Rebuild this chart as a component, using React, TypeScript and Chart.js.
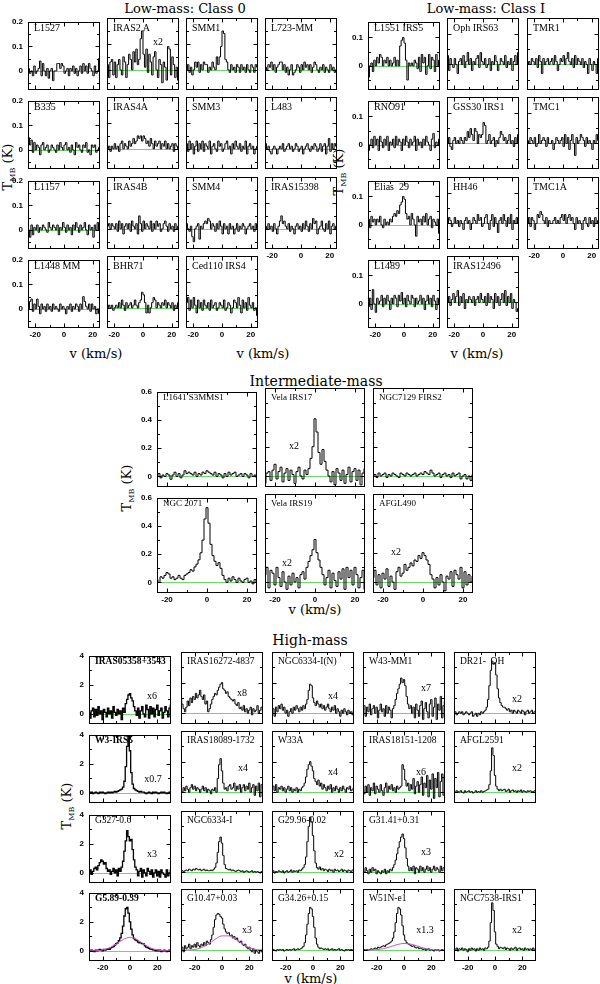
import React, { useEffect, useRef } from "react";
import { Chart, registerables } from "chart.js";
Chart.register(...registerables);

// ---------- channel grids (km/s) ----------
const VEL_LOW = [
  -24.5, -23.5, -22.5, -21.5, -20.5, -19.5, -18.5, -17.5, -16.5, -15.5,
  -14.5, -13.5, -12.5, -11.5, -10.5, -9.5, -8.5, -7.5, -6.5, -5.5,
  -4.5, -3.5, -2.5, -1.5, -0.5, 0.5, 1.5, 2.5, 3.5, 4.5,
  5.5, 6.5, 7.5, 8.5, 9.5, 10.5, 11.5, 12.5, 13.5, 14.5,
  15.5, 16.5, 17.5, 18.5, 19.5, 20.5, 21.5, 22.5, 23.5, 24.5,
];
const VEL_INT = [
  -25, -24, -23, -22, -21, -20, -19, -18, -17, -16,
  -15, -14, -13, -12, -11, -10, -9, -8, -7, -6,
  -5, -4, -3, -2, -1, 0, 1, 2, 3, 4,
  5, 6, 7, 8, 9, 10, 11, 12, 13, 14,
  15, 16, 17, 18, 19, 20, 21, 22, 23, 24,
  25,
];
const VEL_HIGH = [
  -30, -29, -28, -27, -26, -25, -24, -23, -22, -21,
  -20, -19, -18, -17, -16, -15, -14, -13, -12, -11,
  -10, -9, -8, -7, -6, -5, -4, -3, -2, -1,
  0, 1, 2, 3, 4, 5, 6, 7, 8, 9,
  10, 11, 12, 13, 14, 15, 16, 17, 18, 19,
  20, 21, 22, 23, 24, 25, 26, 27, 28, 29,
  30,
];
const VEL_FIT = [-30, -25, -20, -15, -10, -5, 0, 5, 10, 15, 20, 25, 30];

// ---------- Low-mass Class 0 (T_MB, K) ----------
const L1527 = [
  .01, -.01, .00, -.02, .02, -.01, .00, .01, .04, -.02,
  .03, .00, -.02, .01, -.03, .00, .01, -.04, .00, .00,
  .03, .03, .01, .03, .02, -.01, .00, .01, -.02, .01,
  .00, .02, -.01, .01, -.02, .00, .02, -.01, .03, .00,
  .02, -.01, .03, .01, .00, -.02, .02, -.01, .00, .05,
];
const IRAS2A = [
  .02, -.03, .03, .04, -.02, .03, -.03, .02, .04, .00,
  -.02, .05, .03, -.03, .02, .06, .04, .00, .07, .03,
  .08, .02, .04, .12, .15, .06, .01, .08, -.01, .06,
  .03, -.02, .05, .07, .00, -.03, .04, .02, -.05, .03,
  .01, -.04, .09, .08, -.02, .05, .02, -.03, .01, -.04,
];
const SMM1 = [
  .00, .02, -.01, .01, -.02, .00, .03, .01, .03, -.01,
  .02, .00, .03, .02, .02, -.01, .01, .00, .03, .01,
  .00, .05, .02, .05, .09, .15, .14, .04, .03, .00,
  -.01, .02, .00, .01, -.01, .02, .01, -.01, .02, .00,
  .01, -.01, .02, .00, -.01, .02, .01, -.01, .02, .01,
];
const L723 = [
  .01, .00, .02, .01, .03, .00, .02, -.01, .01, .02,
  .03, .03, .00, .02, -.01, .01, -.02, .00, .02, -.02,
  -.01, .00, .02, .01, -.01, .02, .00, .03, .01, .02,
  .00, .02, -.01, .01, .03, .02, .00, -.01, .01, .00,
  .02, -.01, .01, .00, -.01, .02, .00, .01, -.01, .00,
];
const B335 = [
  .05, .02, .04, -.01, .03, .00, .02, .01, -.02, .02,
  .03, .00, .01, .02, -.01, .00, .02, .01, .00, -.01,
  .02, .00, .03, .01, .00, .02, .03, .00, .01, -.01,
  .02, .00, -.02, .03, .01, .02, .00, -.01, .02, .01,
  .03, -.01, .00, -.02, .02, .01, .02, -.01, .00, .01,
];
const IRAS4A = [
  .00, .01, -.01, .01, .00, .02, .00, .01, -.01, .02,
  .03, .00, .02, .01, .00, .03, .01, .02, .04, .02,
  .03, .05, .04, .05, .03, .05, .04, .02, .03, .01,
  .04, .02, .00, .03, .01, .02, .03, .00, .02, .01,
  .03, .00, .02, .00, .01, .02, -.01, .02, .01, .00,
];
const SMM3 = [
  .02, -.01, .03, .00, .02, -.02, .01, .03, -.01, .02,
  .00, .03, -.01, .02, .01, .00, .03, -.02, .01, .02,
  .00, -.01, .03, .01, .02, -.01, .00, .02, .03, .00,
  .01, -.02, .02, .00, .03, .01, .00, .02, -.01, .01,
  .00, .03, -.02, .01, .02, .00, .01, -.02, .00, .01,
];
const L483 = [
  .02, .00, .01, -.01, -.02, .00, .01, .00, -.02, .00,
  .01, .00, .02, -.01, .00, .01, .02, .00, .01, -.01,
  .00, .02, .01, -.01, .00, .01, -.02, .00, .01, .02,
  .00, -.01, .01, .00, .02, .01, -.01, .00, .02, -.01,
  .01, .02, -.02, .01, .04, -.01, .02, .00, .02, .01,
];
const L1157 = [
  .00, -.03, .02, -.02, .01, .00, .02, -.01, .01, .00,
  .02, .01, .00, -.01, .03, .01, .00, .02, .01, .00,
  .02, -.02, .01, .00, .03, .01, -.01, .02, .00, .01,
  -.02, .02, .00, .03, .01, -.01, .02, .00, .01, .03,
  .00, -.02, .02, .00, .01, -.03, .02, .00, .03, .00,
];
const IRAS4B = [
  .01, .02, .00, .02, .01, .00, .02, -.01, .03, .00,
  .02, -.02, .01, .02, .00, .02, -.01, .03, .01, .00,
  .02, -.02, .05, .02, -.01, .03, .00, .02, .01, .00,
  .03, -.01, .02, .00, .03, .01, .02, -.01, .00, .02,
  .03, .01, -.01, .02, .00, .01, -.01, .02, .00, .01,
];
const SMM4 = [
  .02, .00, -.01, .01, -.03, -.05, .00, .01, .02, -.04,
  .01, .00, .02, .03, .02, .04, .03, .00, .02, .01,
  -.01, .02, .00, .03, .01, -.02, .02, .00, .01, -.02,
  .02, .00, .01, -.02, .00, .02, -.01, .01, .00, .02,
  .01, -.02, .00, .01, .02, .00, .01, -.01, .02, .00,
];
const IRAS15398 = [
  .01, .00, .02, .00, .01, -.01, .02, .00, -.02, .01,
  .03, .05, .02, .03, .01, .00, .02, -.01, .01, .00,
  -.02, .01, .02, .00, .01, -.01, .02, .00, .03, .01,
  -.01, .02, .00, .04, .02, .03, -.02, .00, .01, .03,
  .00, -.01, .02, .00, .03, -.02, .01, .02, .00, .01,
];
const L1448MM = [
  .00, .03, .04, -.01, .02, .00, .04, .01, -.02, .02,
  .00, .01, -.01, .02, .00, .01, -.01, .02, .00, .01,
  .00, -.01, .02, .00, .01, .00, -.02, .01, .00, .02,
  -.01, .01, .00, .02, .01, -.01, .02, .00, .05, .03,
  .01, .00, .02, -.01, .02, .00, .01, -.02, .00, -.02,
];
const BHR71 = [
  .00, .01, .00, .01, -.01, .00, .01, .00, .02, .00,
  .03, .01, -.01, .02, .00, .01, .02, .00, .01, .03,
  .01, .00, .02, .03, .06, .05, .02, -.02, .01, -.02,
  .00, .02, .04, .03, .00, .02, .01, .00, .02, .01,
  .03, .00, .02, .01, .00, .02, -.01, .01, .00, .02,
];
const CED110 = [
  .02, .04, -.01, .03, .00, .04, .01, -.02, .03, .00,
  .02, -.01, .03, .01, .00, .02, -.01, .03, .00, .01,
  .02, -.01, .00, .02, .01, .00, .03, -.01, .00, .02,
  .01, -.02, .00, .03, .02, .00, .04, .01, -.02, .03,
  .00, .02, -.01, .04, .01, .00, .02, -.01, .00, -.03,
];

// ---------- Low-mass Class I ----------
const L1551 = [
  -.04, .00, .01, -.02, .02, .00, .03, .01, .04, .03,
  .00, .02, .01, .03, .00, .02, .00, .01, .03, .00,
  .02, .00, .07, .09, .10, .08, .02, -.05, .01, .00,
  .01, .00, .02, .01, -.01, .03, -.02, .04, .01, .03,
  -.03, .00, .04, -.01, .03, .02, -.02, .04, .00, .02,
];
const OPH63 = [
  .03, -.02, .02, .00, -.01, .02, .00, -.03, .01, .02,
  .00, .03, -.01, .01, .04, .00, .02, -.02, .01, .00,
  .02, .03, -.01, .04, .01, .00, .02, -.01, .00, .02,
  -.02, .01, .00, .03, .01, -.02, .00, .02, .01, .00,
  .03, -.01, .01, .00, .02, -.02, .01, .03, .00, .04,
];
const TMR1 = [
  .00, .01, .00, .02, .01, .00, .02, -.01, .03, .01,
  -.03, .02, .00, .01, .02, .00, .01, .02, .00, .03,
  .01, -.02, .00, .02, .01, .03, .00, .02, .04, .01,
  .00, .02, -.01, .03, .00, .02, .01, .00, .02, -.01,
  .01, .00, -.03, .02, .00, -.02, .01, .00, -.03, .02,
];
const RNO91 = [
  -.02, .00, .02, -.01, .03, .00, .02, -.02, .03, .01,
  -.01, .02, .00, .03, -.02, .01, .00, .02, -.01, .03,
  .00, .02, .01, -.02, .02, .00, .03, .01, -.01, .02,
  .00, .01, .03, -.02, .02, .00, .01, -.01, .02, .00,
  .03, .01, .00, -.02, .02, .04, -.01, .01, .00, .02,
];
const GSS30 = [
  .00, .02, -.01, -.02, .01, .02, .00, .01, .00, .02,
  .01, .00, .02, .01, .04, .02, .05, .03, .01, .05,
  .04, .00, .03, .02, .03, .07, .06, .00, .01, .03,
  .00, .01, .02, -.01, .01, .00, .02, .04, .03, .01,
  .02, .00, .01, .03, .00, .01, -.01, .02, .00, .03,
];
const TMC1 = [
  .01, .00, .02, .01, .00, .02, -.01, .00, .03, .00,
  .01, .02, .01, -.01, .02, .00, .00, .01, -.02, .00,
  .02, .01, .00, .01, .02, -.01, .03, .00, .02, -.02,
  .01, .03, .00, -.04, .02, .00, .01, .03, .02, .01,
  -.01, .02, .00, .01, .00, -.02, .01, .00, .03, .01,
];
const ELIAS29 = [
  .02, -.01, .03, .01, .02, .00, .02, .01, .03, .00,
  -.01, .02, .00, .01, .00, .02, .01, .03, .04, .03,
  .05, .04, .07, .08, .10, .09, .04, .02, .03, .00,
  .04, .02, .00, -.04, .03, .01, .02, .00, .03, .01,
  .04, .00, .02, .03, -.01, .02, .01, .00, .02, -.03,
];
const HH46 = [
  .00, .02, .01, -.01, .00, .02, .00, .01, -.01, .01,
  .00, -.02, .01, .02, .00, .01, -.02, .00, .02, .01,
  .00, .03, .01, .02, -.01, .00, .02, .03, .00, -.02,
  .01, .03, -.01, .02, .00, -.03, .01, .02, .00, .03,
  .01, -.01, .02, .00, .03, -.02, .01, .00, .02, .00,
];
const TMC1A = [
  .00, .02, -.01, .02, .01, -.02, .00, .03, .02, .04,
  .03, .01, .00, .02, -.01, .01, .00, .00, .01, .02,
  .00, .01, .00, .02, .03, .01, .03, .00, .02, .03,
  .01, .02, .00, -.02, .02, .00, .01, .00, -.02, .01,
  .02, .00, -.01, .02, .00, .01, -.01, .02, .00, .01,
];
const L1489 = [
  -.01, .02, -.02, .05, .00, -.03, .02, .00, .01, .03,
  -.01, .02, .00, .03, .01, -.02, .02, .00, .03, .02,
  -.01, .03, .01, .04, .00, .02, -.01, .03, .01, .00,
  .03, .02, -.01, .02, .00, .01, .03, .00, .02, -.02,
  .01, .03, .00, .02, -.01, .03, .01, -.02, .02, .00,
];
const IRAS12496 = [
  .00, .02, -.01, .01, .03, .00, .02, .04, -.01, .02,
  .00, .03, -.02, .01, .00, .02, .01, .00, .02, -.01,
  .01, .02, .00, .03, .01, .00, .02, -.01, .03, .00,
  .02, .01, -.02, .03, .00, .02, -.01, .01, .03, .00,
  .04, -.01, .02, .00, .03, -.02, .01, .00, -.03, -.02,
];

// ---------- Intermediate-mass ----------
const L1641 = [
  .00, .02, -.01, .01, .00, .02, .01, -.02, .01, .03,
  .00, .02, -.01, .01, .04, .02, .03, .02, .01, .03,
  .00, .02, .01, .03, .02, .04, .03, .02, .01, .03,
  .00, .02, .01, -.01, .02, .00, .03, .01, .02, .03,
  .00, .01, .02, .00, .02, .01, -.01, .02, .00, .01,
  -.01,
];
const VELA17 = [
  -.05, .02, .03, -.03, .04, .08, -.02, .03, .06, -.04,
  .02, .05, -.03, .04, .01, -.05, .03, .06, .00, -.02,
  .04, .01, .05, .12, .20, .39, .30, .16, .08, .18,
  .10, .04, .00, -.04, .03, -.06, .05, .02, -.03, .04,
  -.05, .01, .06, -.04, .03, .05, -.03, .04, -.06, .02,
  .05,
];
const NGC7129 = [
  .00, .01, -.01, .02, .00, .01, .02, -.01, .01, .00,
  .02, .01, .00, -.01, .02, .01, .00, .02, .01, .00,
  .01, .02, .00, .01, .02, .01, .03, .02, .01, .04,
  .02, .00, .01, .02, -.01, .01, .02, .00, .01, -.01,
  .02, .00, .01, .02, -.02, .00, .01, -.02, .00, -.03,
  .01,
];
const NGC2071 = [
  .02, .00, .04, .03, .05, .07, .06, .03, .04, .02,
  .03, .05, .03, .02, .05, .06, .07, .09, .08, .11,
  .13, .16, .21, .30, .45, .53, .42, .27, .19, .15,
  .12, .14, .10, .05, .02, .00, .03, .01, .04, .02,
  .00, .03, .01, .00, .02, .03, .00, .01, -.01, .02,
  .00,
];
const VELA19 = [
  .05, .10, -.04, .08, .06, -.02, .10, .03, -.03, .07,
  .00, -.05, .04, -.02, .06, .00, .03, -.04, .05, .07,
  .02, .10, .14, .18, .22, .29, .20, .15, .10, .05,
  -.02, .03, .08, -.04, .06, .01, -.03, .07, .02, .09,
  -.05, .10, .03, .08, -.02, .10, .05, -.04, .03, .08,
  -.05,
];
const AFGL490 = [
  .03, .08, -.02, .05, -.04, .06, .02, .09, -.03, .04,
  .00, -.05, .07, .10, .04, .06, .12, .08, .10, .13,
  .11, .15, .14, .18, .16, .20, .18, .15, .12, .05,
  .02, -.04, .03, -.02, .05, .00, -.06, .04, .02, .07,
  -.03, .08, .05, .02, .10, -.04, .07, -.02, .05, .00,
  .04,
];

// ---------- High-mass (scaled as marked) ----------
const IRAS05358 = [
  0.1, -0.3, 0.2, 0.4, -0.2, 0.3, -0.1, 0.5, 0.0, 0.2,
  -0.4, 0.3, 0.1, -0.2, 0.4, 0.0, 0.2, -0.3, 0.5, 0.1,
  -0.1, 0.3, 0.0, 0.2, -0.4, 0.4, 0.1, 0.7, 1.0, 1.3,
  1.4, 1.1, 0.9, 0.5, 0.2, -0.1, 0.4, -0.3, 0.2, 0.5,
  0.0, -0.2, 0.6, 0.3, -0.3, 0.5, 0.0, 0.4, -0.2, 0.3,
  0.6, -0.1, 0.2, 0.4, -0.3, 0.1, 0.5, 0.2, -0.2, 0.4,
  0.6,
];
const IRAS16272 = [
  1.0, 0.6, 0.3, 0.1, 0.4, 0.8, 0.5, 1.0, 0.7, 1.1,
  0.9, 1.3, 1.0, 1.2, 1.5, 1.1, 0.9, 1.2, 0.6, 0.8,
  0.1, 0.3, 0.6, 0.9, 1.1, 1.3, 1.2, 1.5, 1.7, 1.9,
  2.0, 1.6, 1.5, 1.3, 1.4, 1.1, 1.0, 0.9, 0.8, 0.9,
  0.6, 0.5, 0.7, 0.3, 0.4, 0.2, 0.5, 0.1, 0.3, 0.0,
  0.2, 0.4, -0.1, 0.3, 0.1, 0.2, 0.5, 0.0, 0.2, 0.4,
  0.1,
];
const NGC6334IN = [
  0.0, 0.3, -0.2, 0.4, 0.1, 0.5, 0.3, 0.6, 0.2, 0.4,
  0.0, 0.2, -0.2, 0.1, 0.3, 0.0, 0.4, 0.2, 0.5, 0.3,
  0.1, 0.4, 0.2, 0.5, 0.3, 0.6, 0.9, 1.5, 1.9, 1.8,
  1.0, 0.7, 0.5, 0.8, 0.6, 0.4, 0.6, 0.3, 0.5, 0.2,
  0.4, 0.6, 0.3, 0.1, 0.4, 0.2, 0.5, 0.0, 0.3, 0.1,
  -0.2, 0.2, 0.0, 0.3, 0.1, -0.1, 0.2, 0.0, 0.1, -0.1,
  0.2,
];
const W43MM1 = [
  0.2, 0.5, -0.2, 0.4, 0.1, 0.6, -0.1, 0.3, 0.5, 0.0,
  0.4, -0.3, 0.2, 0.6, 0.1, 0.3, -0.2, 0.5, 0.0, 0.4,
  0.2, -0.3, 0.3, 0.5, 0.9, 1.3, 1.6, 1.9, 2.3, 2.0,
  2.2, 1.8, 1.1, 0.6, 0.3, 0.5, 0.0, 0.4, -0.3, 0.6,
  0.2, -0.2, 0.5, 0.8, -0.4, 0.3, 0.7, 0.1, -0.3, 0.6,
  0.9, -0.2, 0.4, 1.0, -0.4, 0.6, 0.2, 1.1, -0.3, 0.5,
  0.8,
];
const DR21OH = [
  0.0, 0.1, -0.1, 0.0, 0.1, 0.0, 0.1, -0.1, 0.0, 0.1,
  0.0, -0.1, 0.0, 0.1, -0.2, -0.1, 0.0, -0.2, 0.0, -0.1,
  0.1, 0.0, 0.1, 0.2, 0.4, 0.9, 1.8, 2.8, 3.4, 3.2,
  3.3, 2.5, 1.6, 1.0, 0.7, 0.5, 0.4, 0.4, 0.3, 0.2,
  0.3, 0.1, 0.2, 0.0, 0.2, 0.1, 0.0, 0.2, 0.1, 0.0,
  0.2, 0.1, -0.1, 0.1, 0.2, 0.0, 0.1, 0.2, 0.0, 0.1,
  0.2,
];
const W3IRS5 = [
  0.05, 0.0, 0.05, -0.05, 0.0, 0.05, 0.0, -0.05, 0.05, 0.0,
  0.05, 0.0, -0.05, 0.0, 0.05, 0.0, 0.05, 0.0, 0.05, 0.1,
  0.05, 0.1, 0.15, 0.2, 0.25, 0.4, 0.8, 1.8, 3.2, 3.9,
  2.9, 1.4, 0.6, 0.3, 0.2, 0.15, 0.1, 0.05, 0.1, 0.05,
  0.05, 0.0, -0.05, 0.0, 0.05, 0.0, -0.05, 0.05, 0.0, 0.05,
  0.0, -0.05, 0.0, 0.05, 0.0, 0.05, 0.0, -0.05, 0.0, 0.05,
  0.0,
];
const IRAS18089 = [
  0.2, 0.0, 0.3, 0.1, 0.4, 0.2, 0.0, 0.3, 0.5, 0.2,
  0.4, 0.1, 0.3, 0.2, 0.0, 0.2, 0.4, 0.1, 0.3, 0.0,
  0.2, 0.1, -0.1, 0.2, 0.1, 0.3, 0.0, 0.9, 1.8, 2.2,
  1.4, 0.6, 0.2, 0.3, 0.1, 0.4, 0.5, 0.2, 0.3, 0.6,
  0.1, 0.4, 0.2, 0.5, 0.0, 0.3, 0.5, 0.1, 0.4, 0.2,
  0.6, 0.0, 0.3, 0.5, -0.2, 0.4, 0.1, 0.6, -0.3, 0.5,
  0.2,
];
const W33A = [
  0.2, 0.4, 0.1, 0.5, 0.0, 0.3, 0.2, 0.4, 0.1, 0.3,
  0.0, 0.2, 0.4, 0.1, 0.3, 0.0, 0.2, 0.1, 0.3, 0.0,
  0.2, 0.1, 0.3, 0.4, 0.6, 1.0, 1.5, 1.8, 2.0, 1.7,
  1.4, 0.9, 0.7, 0.5, 0.8, 0.4, 0.6, 0.2, 0.5, 0.3,
  0.1, 0.4, 0.2, 0.5, 0.0, 0.3, 0.1, 0.4, 0.2, 0.0,
  0.3, 0.1, 0.4, 0.2, 0.0, 0.3, 0.2, 0.4, 0.1, 0.2,
  0.3,
];
const IRAS18151 = [
  0.2, -0.1, 0.4, 0.0, 0.5, -0.2, 0.3, 0.1, 0.6, -0.1,
  0.4, 0.2, 0.0, 0.5, 0.1, -0.2, 0.3, 0.6, 0.0, 0.4,
  0.2, 0.5, 0.1, 0.3, 0.0, 0.4, 0.2, 0.3, 0.4, 1.8,
  1.5, 0.8, 0.4, 0.6, 0.1, 0.5, 0.2, 0.9, -0.1, 0.4,
  0.7, 0.0, 0.5, 1.0, -0.2, 0.6, 0.3, 1.1, -0.3, 0.8,
  0.2, 1.2, -0.4, 0.9, 0.3, 1.3, -0.3, 0.7, 1.2, -0.2,
  1.0,
];
const AFGL2591 = [
  0.1, 0.0, 0.1, 0.05, 0.0, 0.1, 0.0, -0.05, 0.1, 0.0,
  0.05, 0.1, 0.0, 0.05, -0.05, 0.0, 0.1, 0.0, 0.05, 0.0,
  0.1, 0.0, 0.05, 0.1, 0.15, 0.2, 0.5, 1.4, 2.9, 2.4,
  1.1, 0.4, 0.2, 0.1, 0.2, 0.1, 0.15, 0.2, 0.05, 0.1,
  0.2, 0.0, 0.1, 0.15, 0.05, 0.1, 0.0, 0.1, 0.05, 0.15,
  0.0, 0.1, 0.05, 0.0, 0.1, 0.05, 0.1, 0.0, 0.05, 0.1,
  0.0,
];
const G327 = [
  0.0, 0.2, -0.1, 0.1, 0.3, 0.4, 0.2, 0.5, 0.7, 0.9,
  0.8, 0.6, 0.7, 0.3, 0.1, 0.2, -0.1, 0.1, 0.3, 0.0,
  0.2, -0.2, 0.3, 0.1, 0.4, 0.8, 1.5, 2.2, 2.9, 2.5,
  2.2, 2.3, 1.6, 0.9, 0.4, 0.2, -0.2, 0.1, 0.3, -0.3,
  0.2, 0.0, -0.2, 0.3, 0.1, -0.1, 0.2, -0.3, 0.0, 0.2,
  -0.2, 0.1, -0.3, 0.2, 0.0, -0.1, -0.3, 0.2, -0.2, 0.0,
  0.2,
];
const NGC6334I = [
  0.05, 0.1, 0.05, 0.1, 0.15, 0.1, 0.2, 0.15, 0.1, 0.2,
  0.15, 0.25, 0.2, 0.15, 0.2, 0.1, 0.15, 0.2, 0.1, 0.15,
  0.1, 0.1, 0.15, 0.1, 0.2, 0.3, 0.6, 1.3, 2.0, 2.3,
  1.9, 1.1, 0.5, 0.25, 0.2, 0.15, 0.2, 0.1, 0.15, 0.1,
  0.05, 0.1, 0.15, 0.1, 0.05, 0.1, 0.0, 0.05, 0.1, 0.05,
  0.0, 0.05, 0.1, 0.0, 0.05, 0.0, 0.05, 0.0, -0.05, 0.05,
  0.0,
];
const G2996 = [
  0.0, 0.1, -0.05, 0.05, 0.0, 0.1, 0.05, 0.0, 0.1, -0.05,
  0.05, 0.1, 0.0, 0.05, 0.15, 0.0, 0.1, 0.05, 0.1, 0.0,
  0.15, 0.1, 0.2, 0.3, 0.5, 1.0, 2.0, 3.0, 3.6, 3.3,
  2.4, 1.4, 0.6, 0.3, 0.2, 0.35, 0.15, 0.25, 0.1, 0.2,
  0.15, 0.05, 0.2, 0.1, 0.15, 0.0, 0.2, 0.1, 0.15, 0.05,
  0.1, 0.2, 0.05, 0.15, 0.1, 0.0, 0.15, 0.1, 0.05, 0.15,
  0.1,
];
const G3141 = [
  0.2, 0.0, 0.3, 0.1, -0.1, 0.2, 0.0, 0.3, 0.1, 0.2,
  -0.1, 0.1, 0.0, -0.1, 0.1, 0.0, 0.2, -0.1, 0.1, 0.0,
  0.2, 0.1, 0.3, 0.5, 0.8, 1.2, 1.6, 2.0, 2.3, 2.5,
  2.2, 1.6, 0.9, 0.4, 0.1, 0.3, 0.1, 0.4, -0.1, 0.3,
  0.2, 0.0, 0.4, 0.1, 0.3, 0.0, 0.2, 0.4, 0.1, 0.3,
  0.0, 0.2, 0.4, 0.1, 0.3, 0.2, 0.0, 0.4, 0.1, 0.3,
  0.2,
];
const G589 = [
  0.05, 0.0, 0.05, 0.0, -0.05, 0.05, 0.0, 0.05, 0.1, 0.05,
  0.0, 0.1, 0.05, 0.1, 0.15, 0.1, 0.2, 0.25, 0.3, 0.4,
  0.5, 0.55, 0.7, 0.9, 1.2, 1.7, 2.4, 2.9, 3.0, 2.6,
  2.0, 1.5, 1.1, 0.85, 0.75, 0.7, 0.6, 0.55, 0.55, 0.5,
  0.48, 0.35, 0.25, 0.22, 0.17, 0.12, 0.1, 0.06, 0.05, 0.0,
  0.05, 0.0, 0.05, -0.05, 0.0, 0.05, 0.0, -0.05, 0.0, 0.05,
  -0.05,
];
const G589_FIT = [0.0, 0.01, 0.06, 0.2, 0.47, 0.78, 0.93, 0.78, 0.47, 0.2, 0.06, 0.01, 0.0];
const G1047 = [
  0.0, 0.2, -0.1, 0.3, 0.1, 0.2, 0.4, 0.1, 0.3, 0.2,
  0.4, 0.2, 0.5, 0.3, 0.2, 0.4, 0.3, 0.5, 0.3, 0.6,
  0.5, 0.4, 0.7, 1.0, 1.5, 2.0, 2.3, 2.4, 2.35, 2.2,
  2.1, 1.7, 1.4, 1.2, 1.1, 1.15, 0.95, 1.0, 0.8, 0.9,
  0.7, 0.8, 0.6, 0.5, 0.6, 0.4, 0.3, 0.4, 0.2, 0.1,
  0.2, 0.0, -0.1, 0.1, -0.2, 0.0, -0.1, -0.2, 0.0, -0.1,
  0.1,
];
const G1047_FIT = [0.0, 0.01, 0.05, 0.17, 0.41, 0.72, 0.94, 0.94, 0.72, 0.41, 0.17, 0.05, 0.01];
const G3426 = [
  0.0, 0.05, 0.0, -0.05, 0.05, 0.0, 0.05, 0.0, 0.05, -0.05,
  0.0, 0.05, 0.0, 0.05, 0.0, 0.05, 0.1, 0.0, 0.05, 0.1,
  0.05, 0.1, 0.15, 0.25, 0.5, 1.0, 1.7, 2.4, 2.8, 2.7,
  2.2, 1.5, 0.8, 0.4, 0.2, 0.1, 0.15, 0.1, 0.05, 0.1,
  0.05, 0.1, 0.0, 0.05, 0.1, 0.0, 0.05, 0.0, 0.05, 0.1,
  0.0, 0.05, 0.0, -0.05, 0.05, 0.0, 0.05, 0.0, 0.05, 0.0,
  0.05,
];
const W51N = [
  0.0, 0.05, 0.0, 0.05, 0.0, 0.05, 0.1, 0.05, 0.1, 0.15,
  0.1, 0.2, 0.15, 0.2, 0.25, 0.3, 0.25, 0.35, 0.4, 0.45,
  0.5, 0.6, 0.8, 1.2, 1.8, 2.4, 2.8, 2.7, 2.3, 1.6,
  1.0, 0.65, 0.5, 0.42, 0.37, 0.3, 0.25, 0.3, 0.2, 0.15,
  0.2, 0.1, 0.15, 0.1, 0.05, 0.1, 0.0, 0.05, 0.1, 0.0,
  0.05, 0.0, -0.05, 0.05, 0.0, 0.05, -0.05, 0.0, 0.05, 0.0,
  -0.05,
];
const W51N_FIT = [0.0, 0.01, 0.04, 0.11, 0.23, 0.37, 0.45, 0.4, 0.27, 0.13, 0.05, 0.01, 0.0];
const NGC7538 = [
  0.1, 0.0, 0.15, -0.05, 0.1, 0.05, 0.15, 0.0, 0.1, 0.05,
  -0.1, 0.1, 0.0, 0.15, 0.05, 0.1, -0.05, 0.1, 0.0, 0.15,
  0.05, 0.1, 0.0, 0.15, 0.1, 0.2, 0.6, 1.8, 3.1, 2.6,
  1.2, 0.4, 0.25, 0.1, 0.2, 0.15, 0.1, 0.2, 0.05, 0.15,
  0.1, 0.0, 0.15, 0.05, 0.1, 0.2, 0.0, 0.1, 0.15, 0.05,
  0.1, 0.0, 0.15, 0.05, 0.1, 0.0, 0.1, 0.05, 0.15, 0.0,
  0.1,
];

// ---------- axis ticks ----------
const X_LABELS = [-20, 0, 20];
const X_MINOR = [-10, 10];

// ---------- layout / style ----------
const PL = 20, PR = 3, PT = 6, PB = 14;
const ZERO_COLOR = "#66dd66";
const FIT_COLOR = "#cc55cc";
const SERIF = "'Liberation Serif', 'Times New Roman', serif";
const TITLE_FONT = "'DejaVu Serif', serif";

type Group = {
  cols: number[]; rows: number[]; w: number; h: number; vel: number[];
  xr: [number, number]; yr: [number, number]; yLab: number[]; yMinor: number[];
  labelSize: number; boldCol0: boolean;
};
const G_C0: Group = { cols: [28, 107, 186, 265], rows: [18, 97, 177, 256], w: 72, h: 72, vel: VEL_LOW, xr: [-25, 25], yr: [-0.078, 0.2], yLab: [0, 0.1, 0.2], yMinor: [-0.05, 0.05, 0.15], labelSize: 10, boldCol0: false };
const G_C1: Group = { cols: [368, 447, 527], rows: [18, 97, 177, 256], w: 72, h: 72, vel: VEL_LOW, xr: [-25, 25], yr: [-0.085, 0.155], yLab: [0, 0.1], yMinor: [-0.05, 0.05], labelSize: 10, boldCol0: false };
const G_IM: Group = { cols: [157, 265, 373], rows: [388, 494], w: 100, h: 99, vel: VEL_INT, xr: [-25, 25], yr: [-0.075, 0.6], yLab: [0, 0.2, 0.4, 0.6], yMinor: [0.1, 0.3, 0.5], labelSize: 9, boldCol0: false };
const G_HM: Group = { cols: [89, 181, 272, 363, 454], rows: [652, 731, 811, 889], w: 82, h: 72, vel: VEL_HIGH, xr: [-30, 30], yr: [-0.7, 4], yLab: [0, 2, 4], yMinor: [1, 3], labelSize: 9.5, boldCol0: true };

type P = { name: string; y: number[]; c: number; r: number; xl?: boolean; mult?: string; m?: [number, number]; fit?: number[]; bold?: boolean };

const CLASS0: P[] = [
  { name: "L1527", y: L1527, c: 0, r: 0 },
  { name: "IRAS2 A", y: IRAS2A, c: 1, r: 0, mult: "x2", m: [51, 23] },
  { name: "SMM1", y: SMM1, c: 2, r: 0 },
  { name: "L723-MM", y: L723, c: 3, r: 0 },
  { name: "B335", y: B335, c: 0, r: 1 },
  { name: "IRAS4A", y: IRAS4A, c: 1, r: 1 },
  { name: "SMM3", y: SMM3, c: 2, r: 1 },
  { name: "L483", y: L483, c: 3, r: 1 },
  { name: "L1157", y: L1157, c: 0, r: 2 },
  { name: "IRAS4B", y: IRAS4B, c: 1, r: 2 },
  { name: "SMM4", y: SMM4, c: 2, r: 2 },
  { name: "IRAS15398", y: IRAS15398, c: 3, r: 2, xl: true },
  { name: "L1448 MM", y: L1448MM, c: 0, r: 3, xl: true },
  { name: "BHR71", y: BHR71, c: 1, r: 3, xl: true },
  { name: "Ced110 IRS4", y: CED110, c: 2, r: 3, xl: true },
];
const CLASS1: P[] = [
  { name: "L1551 IRS5", y: L1551, c: 0, r: 0 },
  { name: "Oph IRS63", y: OPH63, c: 1, r: 0 },
  { name: "TMR1", y: TMR1, c: 2, r: 0 },
  { name: "RNO91", y: RNO91, c: 0, r: 1 },
  { name: "GSS30 IRS1", y: GSS30, c: 1, r: 1 },
  { name: "TMC1", y: TMC1, c: 2, r: 1 },
  { name: "Elias  29", y: ELIAS29, c: 0, r: 2 },
  { name: "HH46", y: HH46, c: 1, r: 2 },
  { name: "TMC1A", y: TMC1A, c: 2, r: 2, xl: true },
  { name: "L1489", y: L1489, c: 0, r: 3, xl: true },
  { name: "IRAS12496", y: IRAS12496, c: 1, r: 3, xl: true },
];
const INTER: P[] = [
  { name: "L1641 S3MMS1", y: L1641, c: 0, r: 0 },
  { name: "Vela IRS17", y: VELA17, c: 1, r: 0, mult: "x2", m: [29, 57] },
  { name: "NGC7129 FIRS2", y: NGC7129, c: 2, r: 0 },
  { name: "NGC 2071", y: NGC2071, c: 0, r: 1, xl: true },
  { name: "Vela IRS19", y: VELA19, c: 1, r: 1, xl: true, mult: "x2", m: [22, 68] },
  { name: "AFGL490", y: AFGL490, c: 2, r: 1, xl: true, mult: "x2", m: [23, 57] },
];
const HIGH: P[] = [
  { name: "IRAS05358+3543", y: IRAS05358, c: 0, r: 0, mult: "x6", m: [63, 43], bold: true },
  { name: "IRAS16272-4837", y: IRAS16272, c: 1, r: 0, mult: "x8", m: [61, 40] },
  { name: "NGC6334-I(N)", y: NGC6334IN, c: 2, r: 0, mult: "x4", m: [61, 43] },
  { name: "W43-MM1", y: W43MM1, c: 3, r: 0, mult: "x7", m: [63, 35] },
  { name: "DR21-  OH", y: DR21OH, c: 4, r: 0, mult: "x2", m: [63, 46] },
  { name: "W3-IRS5", y: W3IRS5, c: 0, r: 1, mult: "x0.7", m: [64, 47], bold: true },
  { name: "IRAS18089-1732", y: IRAS18089, c: 1, r: 1, mult: "x4", m: [62, 36] },
  { name: "W33A", y: W33A, c: 2, r: 1, mult: "x4", m: [61, 40] },
  { name: "IRAS18151-1208", y: IRAS18151, c: 3, r: 1, mult: "x6", m: [58, 40] },
  { name: "AFGL2591", y: AFGL2591, c: 4, r: 1, mult: "x2", m: [63, 36] },
  { name: "G327-0.6", y: G327, c: 0, r: 2, mult: "x3", m: [63, 42] },
  { name: "NGC6334-I", y: NGC6334I, c: 1, r: 2 },
  { name: "G29.96-0.02", y: G2996, c: 2, r: 2, mult: "x2", m: [67, 42] },
  { name: "G31.41+0.31", y: G3141, c: 3, r: 2, mult: "x3", m: [63, 40] },
  { name: "G5.89-0.39", y: G589, c: 0, r: 3, xl: true, fit: G589_FIT, bold: true },
  { name: "G10.47+0.03", y: G1047, c: 1, r: 3, xl: true, mult: "x3", m: [66, 40], fit: G1047_FIT },
  { name: "G34.26+0.15", y: G3426, c: 2, r: 3, xl: true },
  { name: "W51N-e1", y: W51N, c: 3, r: 3, xl: true, mult: "x1.3", m: [62, 40], fit: W51N_FIT },
  { name: "NGC7538-IRS1", y: NGC7538, c: 4, r: 3, xl: true, mult: "x2", m: [63, 40] },
];

const framePlugin = {
  id: "frame",
  beforeDatasetsDraw(chart: any) {
    const { ctx, chartArea: a, scales } = chart;
    const y0 = Math.round(scales.y.getPixelForValue(0)) + 0.5;
    ctx.save();
    ctx.strokeStyle = ZERO_COLOR;
    ctx.lineWidth = 1;
    ctx.beginPath();
    ctx.moveTo(a.left, y0);
    ctx.lineTo(a.right, y0);
    ctx.stroke();
    ctx.restore();
  },
  afterDatasetsDraw(chart: any, _args: any, o: any) {
    const { ctx, chartArea: a, scales } = chart;
    const x = scales.x, y = scales.y;
    const l = Math.round(a.left) + 0.5, r = Math.round(a.right) - 0.5;
    const t = Math.round(a.top) + 0.5, b = Math.round(a.bottom) - 0.5;
    ctx.save();
    ctx.strokeStyle = "#000";
    ctx.lineWidth = 1;
    ctx.strokeRect(l, t, r - l, b - t);
    ctx.beginPath();
    const xt = (vals: number[], len: number) => vals.forEach((v) => {
      const p = Math.round(x.getPixelForValue(v)) + 0.5;
      ctx.moveTo(p, b); ctx.lineTo(p, b - len);
      ctx.moveTo(p, t); ctx.lineTo(p, t + len);
    });
    const yt = (vals: number[], len: number) => vals.forEach((v) => {
      const p = Math.round(y.getPixelForValue(v)) + 0.5;
      ctx.moveTo(l, p); ctx.lineTo(l + len, p);
      ctx.moveTo(r, p); ctx.lineTo(r - len, p);
    });
    xt(o.xMajor, 4); xt(o.xMinor, 2.5);
    yt(o.yMajor, 4); yt(o.yMinor, 2.5);
    ctx.stroke();
    ctx.restore();
  },
};

const TICK_FONT = { family: "'Liberation Sans', Arial, sans-serif", size: 8, weight: "bold" as const };

function Panel({ p, g }: { p: P; g: Group }) {
  const ref = useRef<HTMLCanvasElement>(null);
  const left = g.cols[p.c], top = g.rows[p.r];
  const W = g.w + PL + PR, H = g.h + PT + PB;
  useEffect(() => {
    if (!ref.current) return;
    const spec = g.vel.map((v, i) => ({ x: v, y: p.y[i] })).filter((q) => q.y !== undefined);
    const datasets: any[] = [];
    if (p.fit) {
      datasets.push({
        data: VEL_FIT.map((v, i) => ({ x: v, y: p.fit![i] })),
        borderColor: FIT_COLOR, borderWidth: 1, pointRadius: 0, cubicInterpolationMode: "monotone", fill: false,
      });
    }
    datasets.push({
      data: spec, borderColor: "#000", borderWidth: g.boldCol0 && p.c === 0 ? 1.3 : 1,
      pointRadius: 0, stepped: "middle", fill: false,
    });
    const chart = new Chart(ref.current, {
      type: "line",
      data: { datasets },
      options: {
        animation: false,
        responsive: false,
        events: [],
        layout: { padding: { left: 0, right: PR, top: PT, bottom: 0 } },
        plugins: {
          legend: { display: false },
          tooltip: { enabled: false },
          frame: { xMajor: X_LABELS, xMinor: X_MINOR, yMajor: g.yLab, yMinor: g.yMinor },
        } as any,
        scales: {
          x: {
            type: "linear", min: g.xr[0], max: g.xr[1],
            grid: { display: false, drawTicks: false, tickLength: 0 }, border: { display: false },
            ticks: { display: !!p.xl, autoSkip: false, maxRotation: 0, minRotation: 0, padding: 2, font: TICK_FONT, color: "#000", callback: (v: any) => String(v) },
            afterBuildTicks: (s: any) => { s.ticks = X_LABELS.map((v) => ({ value: v })); },
            afterFit: (s: any) => { s.height = PB; },
          },
          y: {
            type: "linear", min: g.yr[0], max: g.yr[1],
            grid: { display: false, drawTicks: false, tickLength: 0 }, border: { display: false },
            ticks: { display: p.c === 0, autoSkip: false, padding: 5, font: TICK_FONT, color: "#000", callback: (v: any) => String(v) },
            afterBuildTicks: (s: any) => { s.ticks = g.yLab.map((v) => ({ value: v })); },
            afterFit: (s: any) => { s.width = PL; },
          },
        },
      } as any,
      plugins: [framePlugin as any],
    });
    return () => chart.destroy();
  }, []);
  return (
    <>
      <canvas ref={ref} width={W} height={H}
        style={{ position: "absolute", left: left - PL, top: top - PT, width: W, height: H }} />
      <div style={{
        position: "absolute", left: left + 6, top: top + 3, fontFamily: SERIF, fontSize: g.labelSize,
        fontWeight: p.bold ? "bold" : "normal", whiteSpace: "pre", lineHeight: "13px", color: "#000",
      }}>{p.name}</div>
      {p.mult && p.m && (
        <div style={{
          position: "absolute", left: left + p.m[0], top: top + p.m[1], transform: "translate(-50%,-50%)",
          fontFamily: SERIF, fontSize: 10, whiteSpace: "nowrap", color: "#000",
        }}>{p.mult}</div>
      )}
    </>
  );
}

function Text({ x, y, size, children, rotate, family }: any) {
  return (
    <div style={{
      position: "absolute", left: x, top: y, whiteSpace: "nowrap", color: "#000",
      transform: `translate(-50%,-50%)${rotate ? " rotate(-90deg)" : ""}`,
      fontFamily: family || TITLE_FONT, fontSize: size, lineHeight: 1,
    }}>{children}</div>
  );
}

const TMB = (
  <span>T<sub style={{ fontSize: 8, verticalAlign: "-3px" }}>MB</sub> (K)</span>
);

export default function App() {
  return (
    <div style={{ position: "absolute", left: 0, top: 0, width: 600, height: 984, background: "#fff", overflow: "hidden" }}>
      <Text x={185} y={8} size={13}>Low-mass: Class 0</Text>
      <Text x={486} y={8} size={13}>Low-mass: Class I</Text>
      <Text x={316} y={381} size={14}>Intermediate-mass</Text>
      <Text x={310} y={640} size={14}>High-mass</Text>

      <Text x={9} y={167} size={13} rotate>{TMB}</Text>
      <Text x={340} y={172} size={13} rotate>{TMB}</Text>
      <Text x={128} y={488} size={13} rotate>{TMB}</Text>
      <Text x={68} y={806} size={13} rotate>{TMB}</Text>

      <Text x={96} y={353} size={13}>v (km/s)</Text>
      <Text x={263} y={353} size={13}>v (km/s)</Text>
      <Text x={477} y={353} size={13}>v (km/s)</Text>
      <Text x={315} y={609} size={13}>v (km/s)</Text>
      <Text x={311} y={978} size={13}>v (km/s)</Text>

      {CLASS0.map((p) => <Panel key={"c0" + p.name} p={p} g={G_C0} />)}
      {CLASS1.map((p) => <Panel key={"c1" + p.name} p={p} g={G_C1} />)}
      {INTER.map((p) => <Panel key={"im" + p.name} p={p} g={G_IM} />)}
      {HIGH.map((p) => <Panel key={"hm" + p.name} p={p} g={G_HM} />)}
    </div>
  );
}
